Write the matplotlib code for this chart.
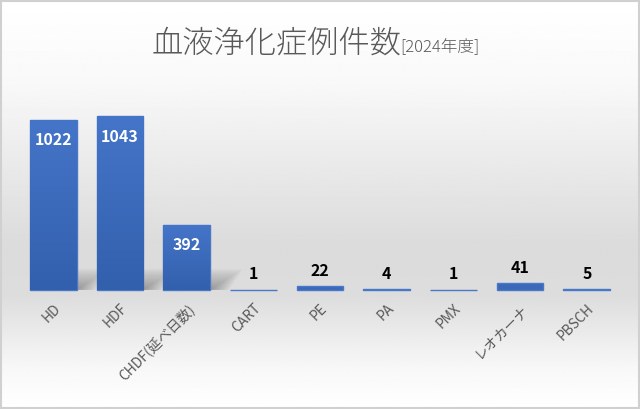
import numpy as np
import matplotlib.pyplot as plt
from matplotlib.patches import Polygon, Rectangle
from matplotlib.colors import LinearSegmentedColormap

plt.rcParams['font.family'] = ['Noto Sans CJK JP', 'DejaVu Sans']

categories = ['HD', 'HDF', 'CHDF(延べ日数)', 'CART', 'PE', 'PA', 'PMX', 'レオカーナ', 'PBSCH']
counts = [1022, 1043, 392, 1, 22, 4, 1, 41, 5]
title_main = '血液浄化症例件数'
title_sub = '[2024年度]'

fig = plt.figure(figsize=(6.4, 4.09), dpi=100)

# background: white top and bottom, light gray band behind the baseline
bg = fig.add_axes([0, 0, 1, 1], zorder=-10)
yy = np.linspace(0, 1, 300)
shade = np.interp(yy, [0, 0.2, 0.6, 0.72, 0.9, 1.0], [1.0, 0.975, 0.86, 0.865, 0.97, 1.0])
bg.imshow(np.repeat(shade[:, None], 2, axis=1), cmap='gray', vmin=0, vmax=1,
          aspect='auto', extent=[0, 1, 1, 0], interpolation='bilinear')
bg.set_xlim(0, 1)
bg.set_ylim(1, 0)
bg.axis('off')
bg.add_patch(Rectangle((0.002, 0.003), 0.996, 0.994, fill=False,
                       edgecolor='#d0d0d0', lw=1.5, transform=bg.transAxes))

ax = fig.add_axes([0.031, 0.291, 0.938, 0.489])
ax.patch.set_alpha(0)
x = np.arange(len(categories))
bars = ax.bar(x, counts, width=0.7, color='#3c68b8', edgecolor='#4a78c8', lw=1.0,
              zorder=3, clip_on=False)
ax.set_xlim(-0.5, len(categories) - 0.5)
ax.set_ylim(0, 1200)

# soft blurred shadow to the lower right of each tall bar
for xi, v in zip(x, counts):
    if v < 50:
        continue
    h = min(v, 400) * 0.32
    n = 16
    for k in range(n):
        s = 1 - k / n
        grow = 0.3 * (k / n)
        poly = Polygon([(xi - 0.35 + 0.1, 0), (xi + 0.35 + grow, 0),
                        (xi + 0.35 + 0.5 * s + grow, h * s),
                        (xi - 0.35 + 0.5 * s + 0.1, h * s)],
                       closed=True, facecolor='#202020', alpha=0.022, lw=0, zorder=1)
        ax.add_patch(poly)

# vertical gradient inside the bars
grad = np.linspace(0, 1, 100)[:, None]
cmap = LinearSegmentedColormap.from_list('b', ['#3360ad', '#4575c9'])
for b in bars:
    bx, by = b.get_x(), b.get_y()
    bw, bh = b.get_width(), b.get_height()
    if bh < 50:
        continue
    im = ax.imshow(grad, cmap=cmap, aspect='auto', origin='lower',
                   extent=[bx, bx + bw, by, by + bh], zorder=3.5)
    im.set_clip_path(b)

for xi, v in zip(x, counts):
    if v > 300:
        ax.text(xi, v - 75, str(v), ha='center', va='top', color='white',
                fontsize=11.5, fontweight='bold', zorder=5)
    else:
        ax.text(xi, v + 45, str(v), ha='center', va='bottom', color='black',
                fontsize=11.5, fontweight='bold', zorder=5)

ax.set_xticks(x)
ax.set_xticklabels(categories, rotation=45, ha='right', va='top',
                   rotation_mode='anchor', color='#595959', fontsize=10)
ax.tick_params(axis='x', length=0, pad=8)
ax.set_yticks([])
for sp in ax.spines.values():
    sp.set_visible(False)

fig.text(0.237, 0.872, title_main, fontsize=22.5, color='#595959', ha='left',
         va='baseline', fontweight='light')
fig.text(0.626, 0.872, title_sub, fontsize=12, color='#595959', ha='left',
         va='baseline', fontweight='light')

fig.savefig('out.png', dpi=100)
